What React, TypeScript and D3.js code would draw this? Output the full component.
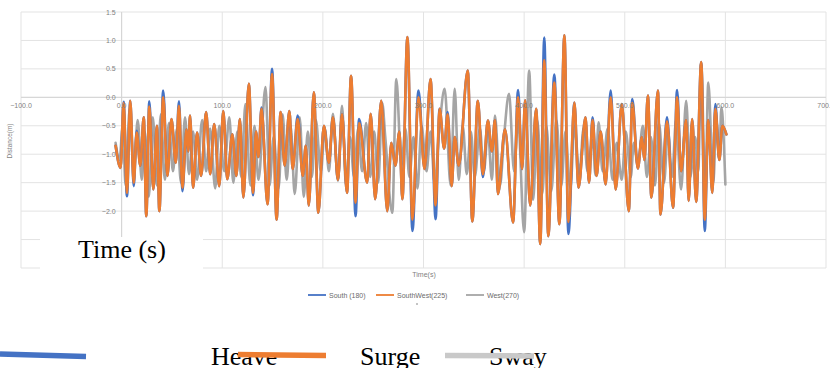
import React from "react";
import * as d3 from "d3";

// ---- data ----
const xTickValues = [-100, 0, 100, 200, 300, 400, 500, 600, 700];
const yTickValues = [1.5, 1.0, 0.5, 0.0, -0.5, -1.0, -1.5, -2.0, -2.5, -3.0];
// labels -2.5 and -3.0 are hidden under the white "Time (s)" box in the reference
const yTickLabels = [1.5, 1.0, 0.5, 0.0, -0.5, -1.0, -1.5, -2.0];

const seriesNames = ["South (180)", "SouthWest(225)", "West(270)"];
const overlayLabels = ["Heave", "Surge", "Sway"];

// South (180) and SouthWest(225) share the sampling instants of their extremes
const swTimes = [
  -6, -1, 2, 5.3, 8.6, 12, 15, 18.5, 22, 24.5, 27.5, 31.5, 35, 37.5, 41.3, 45.5, 49.5, 53.8, 57, 60.4,
  64.5, 66.2, 68, 71, 75, 79, 84, 88, 92, 97, 101, 105, 110, 114, 117.5, 121, 126.4, 130.7, 133.5, 136,
  139, 145, 149.5, 154, 158, 162, 166.7, 170, 175, 180, 183, 186, 191, 195.5, 201, 206, 210, 215, 219, 224,
  228, 232.5, 236, 244, 247.5, 252, 258, 264, 268, 272, 276, 279, 284, 289, 295, 301, 307, 312, 316, 320.5,
  324, 328, 331, 335, 344, 348.5, 354, 359, 364, 368, 371, 374, 381, 389, 394, 398, 401, 406, 412, 416,
  420, 424, 430, 435, 440, 444, 450, 454, 461, 464.5, 468, 472, 476, 481, 486, 491, 497, 504, 507.5, 513,
  517, 519.5, 523, 526.5, 533, 535.5, 542, 548, 552, 556, 561, 563.5, 567, 571, 576, 579.5, 583, 587, 590, 594,
  597, 601,
];

const southWestValues = [
  -0.85, -1.24, -0.10, -1.68, -0.06, -1.50, -0.62, -1.20, -0.35, -2.09, -0.16, -1.62, -0.50, -2.00, 0.00, -1.38, -0.38, -1.15, -0.15, -1.59,
  -0.56, -0.95, -0.32, -1.59, -0.62, -1.38, -0.26, -1.35, -0.47, -1.56, -0.24, -1.44, -0.65, -1.38, -0.38, -1.76, 0.24, -1.68, -0.60, -1.05,
  -0.20, -1.88, 0.41, -2.15, -0.26, -1.20, -0.24, -1.26, -0.38, -1.38, -0.85, -1.90, 0.09, -2.03, -0.50, -1.15, -0.35, -1.45, -0.30, -1.68,
  0.38, -1.85, -0.45, -1.50, -0.29, -1.79, -0.06, -2.00, -0.80, -1.20, -0.60, -1.79, 1.06, -2.15, 0.00, -1.26, 0.32, -1.90, -0.20, -0.90,
  -0.30, -1.56, -0.70, -1.20, 0.47, -2.18, -0.06, -1.35, -0.41, -0.95, -0.40, -1.70, -0.56, -2.20, 0.00, -1.26, -0.05, -1.90, -0.20, -2.58,
  0.65, -2.44, 0.26, -2.23, 1.09, -2.19, -0.09, -1.59, -0.35, -1.50, -0.40, -1.38, -0.60, -1.53, 0.00, -1.62, -0.12, -2.00, -0.10, -1.25,
  -0.70, -1.10, 0.03, -1.76, 0.12, -2.06, -0.42, -1.94, 0.00, -1.30, -0.40, -1.82, -0.38, -1.84, 0.62, -2.15, -0.40, -1.68, -0.20, -1.10,
  -0.50, -0.65,
];

const southValues = [
  -0.85, -1.24, -0.08, -1.74, -0.06, -1.56, -0.59, -1.20, -0.35, -2.09, -0.07, -1.62, -0.50, -2.00, 0.12, -1.38, -0.38, -1.15, -0.07, -1.65,
  -0.56, -0.95, -0.32, -1.59, -0.62, -1.38, -0.26, -1.35, -0.47, -1.56, -0.24, -1.44, -0.65, -1.38, -0.38, -1.76, 0.24, -1.72, -0.60, -1.05,
  -0.18, -1.88, 0.50, -2.15, -0.26, -1.20, -0.24, -1.26, -0.32, -1.38, -0.85, -1.90, 0.09, -2.03, -0.50, -1.15, -0.35, -1.45, -0.30, -1.68,
  0.38, -2.09, -0.38, -1.50, -0.29, -1.79, -0.06, -2.00, -0.80, -1.20, -0.60, -1.79, 1.06, -2.35, 0.12, -1.26, 0.32, -2.14, -0.20, -0.90,
  -0.26, -1.56, -0.70, -1.20, 0.47, -2.18, -0.06, -1.40, -0.41, -0.95, -0.40, -1.70, -0.56, -2.20, 0.13, -1.26, -0.05, -1.90, -0.20, -2.58,
  1.05, -2.44, 0.40, -2.23, 1.09, -2.40, -0.09, -1.59, -0.35, -1.50, -0.35, -1.38, -0.60, -1.53, 0.12, -1.62, -0.12, -2.00, -0.03, -1.25,
  -0.70, -1.10, 0.03, -1.76, 0.12, -2.06, -0.35, -1.94, 0.13, -1.30, -0.40, -1.82, -0.38, -1.84, 0.62, -2.35, -0.40, -1.68, -0.12, -1.10,
  -0.50, -0.65,
];

const westTimes = [
  -6, -2, 1, 4, 8, 12, 16, 20, 23, 27, 31, 35, 39, 43, 47, 51, 55, 59, 63, 67,
  71, 75, 80, 84, 88, 93, 97, 102, 107, 111, 115, 119, 123, 128, 132, 136, 143, 147, 151, 156,
  160, 164, 168, 172, 177, 181, 185, 189, 193, 198, 202, 206, 210, 215, 219, 223, 227, 231, 235, 239,
  243, 247, 251, 255, 259, 262, 269, 273, 278, 282, 286, 290, 294, 298, 303, 307, 311, 316, 321, 327,
  331, 335, 339, 343, 347, 351, 356, 360, 364, 368, 371, 376, 380, 385, 390, 394, 400, 405, 409, 413,
  418, 422, 427, 432, 437, 441, 446, 450, 455, 459, 463, 468, 471, 474, 478, 483, 488, 492, 497, 501,
  506, 509, 513, 518, 522, 526, 530, 534, 539, 543, 547, 551, 556, 561, 565, 570, 573, 576, 580, 583,
  588, 591, 594, 596, 600,
];

const westValues = [
  -0.80, -1.10, -0.50, -1.55, -0.20, -1.30, -0.40, -1.45, -0.60, -1.75, -0.35, -1.55, -0.30, -1.45, -0.45, -1.30, -0.55, -1.50, -0.35, -1.35,
  -0.60, -1.45, -0.40, -1.30, -0.55, -1.60, -0.50, -1.30, -0.35, -1.50, -0.60, -1.40, -0.12, -1.55, -0.50, -1.45, 0.18, -1.55, -0.70, -1.60,
  -0.30, -1.45, -0.50, -1.70, -0.35, -1.75, -0.60, -1.40, -0.40, -1.30, -0.55, -1.30, -0.29, -1.47, -0.15, -1.55, -0.70, -1.40, -0.55, -1.30,
  -0.45, -1.40, -0.60, -1.50, -0.10, -0.70, -2.03, 0.32, -1.20, -0.55, -1.40, -0.70, -1.60, -0.50, -1.30, -0.60, -1.50, -0.50, 0.15, -1.55,
  0.15, -1.45, -0.50, -1.35, -0.60, -1.40, -0.55, -1.30, -0.60, -1.45, -0.32, -1.55, -0.70, 0.06, -1.30, -0.40, -2.37, 0.47, -1.80, -0.40,
  -1.70, -0.50, -1.65, -0.40, -1.55, -0.60, -1.60, -0.50, -1.35, -0.55, -1.30, -0.75, -1.37, -0.44, -1.30, -0.55, -1.45, -0.80, -1.45, -0.60,
  -1.40, -0.80, -1.20, -0.50, -1.40, -0.70, -1.55, -0.45, -1.50, -0.60, -1.40, -0.40, -1.62, -0.06, -1.40, -0.70, -1.30, 0.60, -1.75, 0.26,
  -1.50, -0.40, -1.10, -0.18, -1.53,
];

// ---- layout ----
const W = 830;
const H = 368;
const xScale = d3.scaleLinear().domain([-100, 700]).range([21, 826]);
const yScale = d3.scaleLinear().domain([-3, 1.5]).range([268, 12]);

const seriesColors = ["#4472C4", "#ED7D31", "#A5A5A5"];

type Pt = [number, number];

function makePath(times: number[], values: number[]): string {
  const pts: Pt[] = times.map((t, i) => [t, values[i]]);
  const line = d3
    .line<Pt>()
    .x((d) => xScale(d[0]))
    .y((d) => yScale(d[1]))
    .curve(d3.curveMonotoneX);
  return line(pts) || "";
}

export default function App() {
  const fmt = d3.format(".1f");
  const axisFont = "'Liberation Sans', Arial, sans-serif";
  const gridColor = "#e3e3e3";
  const labelColor = "#7f7f7f";

  const paths = [
    makePath(swTimes, southValues),
    makePath(swTimes, southWestValues),
    makePath(westTimes, westValues),
  ];
  // drawing order: West underneath, then South, SouthWest on top
  const drawOrder = [2, 0, 1];

  const legendX = [308, 376, 466];
  const overlayTextX = [211, 360, 489];
  const overlayLines: [number, number, number, number][] = [
    [0, 354, 86, 356.5],
    [238, 354.5, 326, 355.5],
    [445, 355.5, 534, 356],
  ];
  const overlayLineColors = ["#4472C4", "#ED7D31", "#C9C9C9"];

  return (
    <svg
      width={W}
      height={H}
      style={{ position: "absolute", left: 0, top: 0, background: "#fff" }}
    >
      <rect x={0} y={0} width={W} height={H} fill="#fff" />
      {/* gridlines */}
      {yTickValues.map((v) => (
        <line
          key={"gy" + v}
          x1={xScale(-100)}
          x2={xScale(700)}
          y1={yScale(v)}
          y2={yScale(v)}
          stroke={gridColor}
          strokeWidth={1}
        />
      ))}
      {xTickValues.map((v) => (
        <line
          key={"gx" + v}
          x1={xScale(v)}
          x2={xScale(v)}
          y1={yScale(1.5)}
          y2={yScale(-3)}
          stroke={gridColor}
          strokeWidth={1}
        />
      ))}
      {/* axis lines through zero */}
      <line x1={xScale(-100)} x2={xScale(700)} y1={yScale(0)} y2={yScale(0)} stroke="#d4d4d4" strokeWidth={1} />
      <line x1={xScale(0)} x2={xScale(0)} y1={yScale(1.5)} y2={yScale(-3)} stroke="#d4d4d4" strokeWidth={1} />

      {/* y tick labels */}
      {yTickLabels.map((v) => (
        <text
          key={"ty" + v}
          x={xScale(0) - 6}
          y={yScale(v) + 2.5}
          textAnchor="end"
          fontFamily={axisFont}
          fontSize={7}
          fill={labelColor}
        >
          {fmt(v)}
        </text>
      ))}

      {/* series */}
      {drawOrder.map((i) => (
        <path
          key={"s" + i}
          d={paths[i]}
          fill="none"
          stroke={seriesColors[i]}
          strokeWidth={2.6}
          strokeLinejoin="round"
          strokeLinecap="round"
        />
      ))}

      {/* x tick labels (drawn over lines, as in the reference) */}
      {xTickValues.map((v) => (
        <text
          key={"tx" + v}
          x={xScale(v)}
          y={yScale(0) + 11}
          textAnchor="middle"
          fontFamily={axisFont}
          fontSize={7}
          fill={labelColor}
        >
          {fmt(v)}
        </text>
      ))}

      {/* axis titles */}
      <text
        transform={`translate(12,141) rotate(-90)`}
        textAnchor="middle"
        fontFamily={axisFont}
        fontSize={6.5}
        fill={labelColor}
      >
        Distance(m)
      </text>
      <text x={424} y={277} textAnchor="middle" fontFamily={axisFont} fontSize={7} fill={labelColor}>
        Time(s)
      </text>

      {/* legend */}
      {seriesNames.map((name, i) => (
        <g key={"lg" + i}>
          <line
            x1={legendX[i]}
            x2={legendX[i] + 18}
            y1={295}
            y2={295}
            stroke={seriesColors[i]}
            strokeWidth={1.8}
          />
          <text
            x={legendX[i] + 21}
            y={297.5}
            fontFamily={axisFont}
            fontSize={7}
            fill="#6b6b6b"
          >
            {name}
          </text>
        </g>
      ))}
      <line x1={416} x2={418} y1={304} y2={304} stroke="#888" strokeWidth={1} />

      {/* white overlay box with "Time (s)" */}
      <rect x={40} y={237} width={163} height={36} fill="#fff" />
      <text
        x={78}
        y={258}
        fontFamily="'Liberation Serif', 'Times New Roman', serif"
        fontSize={26}
        fill="#000"
      >
        Time (s)
      </text>

      {/* bottom overlay labels */}
      {overlayLabels.map((lab, i) => (
        <text
          key={"ol" + i}
          x={overlayTextX[i]}
          y={365}
          fontFamily="'Liberation Serif', 'Times New Roman', serif"
          fontSize={26}
          fill="#000"
        >
          {lab}
        </text>
      ))}
      {overlayLines.map((l, i) => (
        <line
          key={"oln" + i}
          x1={l[0]}
          y1={l[1]}
          x2={l[2]}
          y2={l[3]}
          stroke={overlayLineColors[i]}
          strokeWidth={5.5}
        />
      ))}
    </svg>
  );
}
